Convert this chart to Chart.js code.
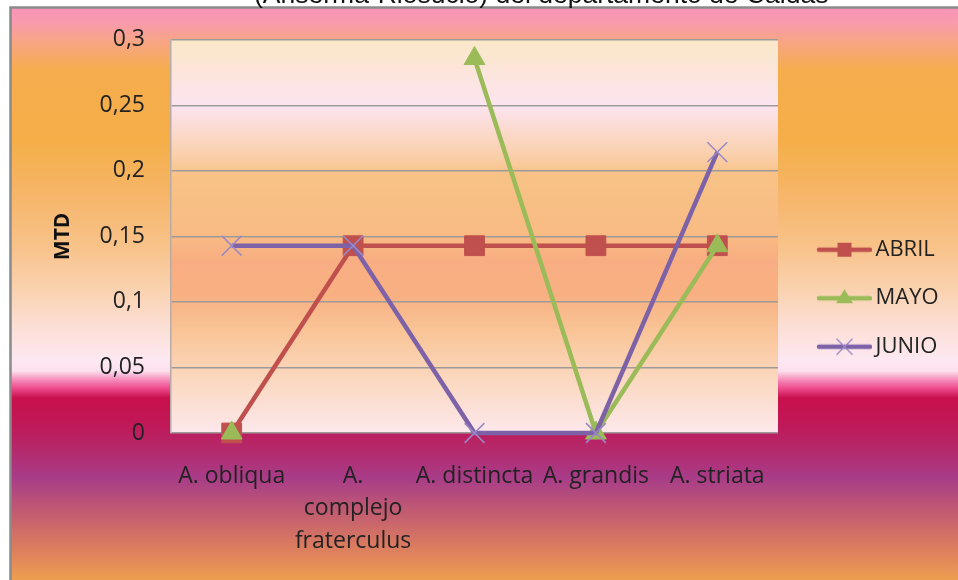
<!DOCTYPE html>
<html><head><meta charset="utf-8">
<script src="https://cdn.jsdelivr.net/npm/chart.js@4.4.1/dist/chart.umd.min.js"></script>
<style>
html,body{margin:0;padding:0;background:#fff;overflow:hidden;}
#wrap{position:relative;width:958px;height:580px;overflow:hidden;}
#title{position:absolute;left:254px;top:-19px;font-family:"Liberation Sans",Arial,sans-serif;font-size:26.5px;line-height:26px;color:#111;white-space:nowrap;}
canvas{display:block;}
</style></head><body>
<div id="wrap"><canvas id="c" width="958" height="580"></canvas><div id="title">(Anserma-Riosucio) del departamento de Caldas</div></div>
<script>
const categories = ['A. obliqua', ['A.', 'complejo', 'fraterculus'], 'A. distincta', 'A. grandis', 'A. striata'];
const seriesNames = ['ABRIL', 'MAYO', 'JUNIO'];
const abril = [0, 0.1429, 0.1429, 0.1429, 0.1429];
const mayo = [0, null, 0.2857, 0, 0.1429];
const junio = [0.1429, 0.1429, 0, 0, 0.2143];
const yTicks = [0, 0.05, 0.1, 0.15, 0.2, 0.25, 0.3];
const yTickLabels = ['0', '0,05', '0,1', '0,15', '0,2', '0,25', '0,3'];
const yAxisTitle = 'MTD';

const colors = ['#C0504D', '#9BBB59', '#7E62A8'];
const markerBorder = ['#C0504D', '#9BBB59', '#9A88C6'];
const styles = ['rect', 'triangle', 'crossRot'];
const radii = [14, 12, 14];

function makeIcon(i) {
  const c = document.createElement('canvas');
  c.width = 75; c.height = 26;
  const x = c.getContext('2d');
  x.strokeStyle = colors[i]; x.lineWidth = 4.5; x.lineCap = 'round';
  x.beginPath(); x.moveTo(22, 13); x.lineTo(73, 13); x.stroke();
  x.fillStyle = colors[i];
  x.strokeStyle = markerBorder[i];
  const cx = 47.5, cy = 13;
  if (styles[i] === 'rect') {
    x.fillRect(cx - 7, cy - 7, 14, 14);
  } else if (styles[i] === 'triangle') {
    x.beginPath(); x.moveTo(cx, cy - 9); x.lineTo(cx + 8.5, cy + 5); x.lineTo(cx - 8.5, cy + 5); x.closePath(); x.fill();
  } else {
    x.lineWidth = 1.3; x.lineCap = 'butt';
    x.beginPath(); x.moveTo(cx - 8, cy - 8); x.lineTo(cx + 8, cy + 8); x.moveTo(cx - 8, cy + 8); x.lineTo(cx + 8, cy - 8); x.stroke();
  }
  return c;
}
const icons = [0, 1, 2].map(makeIcon);

const bgPlugin = {
  id: 'bg',
  beforeDraw(chart) {
    const {ctx, chartArea: a, width, height} = chart;
    ctx.save();
    ctx.fillStyle = '#fff'; ctx.fillRect(0, 0, width, height);
    const g = ctx.createLinearGradient(0, 9, 0, 580);
    const os = [[9,'#F996B8'],[22,'#F99AAE'],[40,'#F7A488'],[70,'#F5AD4E'],[140,'#F5AE48'],[200,'#F6B66C'],[245,'#F8C288'],[290,'#FAD2B0'],[330,'#FCE0D8'],[360,'#FDE8F2'],[371,'#FCE0EE'],[380,'#F58AB8'],[388,'#EE4D8E'],[398,'#C8104C'],[425,'#C01858'],[450,'#B42A6C'],[478,'#A83C88'],[510,'#C05A72'],[545,'#D97A60'],[580,'#EE9E50']];
    os.forEach(([y, c]) => g.addColorStop((y - 9) / 571, c));
    ctx.fillStyle = g; ctx.fillRect(11, 8, width - 11, height - 8);
    ctx.strokeStyle = '#8a8a8a'; ctx.lineWidth = 2.5;
    ctx.beginPath(); ctx.moveTo(10.5, height); ctx.lineTo(10.5, 7.5); ctx.lineTo(width, 7.5); ctx.stroke();
    const pg = ctx.createLinearGradient(0, a.top, 0, a.bottom);
    const ps = [[39,'#FBE8C8'],[70,'#FCE5DA'],[105,'#FCE4F0'],[150,'#FAD2B2'],[175,'#F8C286'],[230,'#F8BC84'],[260,'#F8AE82'],[295,'#F8B082'],[330,'#F9C496'],[380,'#FBD8C0'],[433,'#FDE8EC']];
    ps.forEach(([y, c]) => pg.addColorStop(Math.min(1, Math.max(0, (y - 39) / 394)), c));
    ctx.fillStyle = pg; ctx.fillRect(a.left, a.top, a.right - a.left, a.bottom - a.top);
    ctx.restore();
  }
};

const seriesData = [abril, mayo, junio];
const datasets = seriesData.map((d, i) => ({
  label: seriesNames[i],
  data: d,
  borderColor: colors[i],
  backgroundColor: colors[i],
  borderWidth: 4.5,
  tension: 0,
  spanGaps: false,
  pointStyle: styles[i],
  pointRadius: radii[i],
  pointHoverRadius: radii[i],
  pointBackgroundColor: colors[i],
  pointBorderColor: markerBorder[i],
  pointBorderWidth: i === 2 ? 1.5 : 1,
  clip: false,
  order: 3 - i
}));

const axisFont = {family: '"Open Sans", sans-serif', size: 23};

new Chart(document.getElementById('c'), {
  type: 'line',
  data: {labels: categories, datasets},
  plugins: [bgPlugin],
  options: {
    responsive: false,
    animation: false,
    devicePixelRatio: 1,
    layout: {padding: {left: 0, right: 20, top: 39, bottom: 0}},
    plugins: {
      tooltip: {enabled: false},
      title: {display: false},
      legend: {
        position: 'right',
        align: 'start',
        maxWidth: 160,
        title: {display: true, text: '', padding: {top: 158.8, bottom: 0}, font: {size: 12}},
        labels: {
          usePointStyle: true,
          pointStyleWidth: 60,
          padding: 26.5,
          color: '#222',
          font: {family: '"Open Sans", sans-serif', size: 22},
          generateLabels(chart) {
            return chart.data.datasets.map((ds, i) => ({
              text: ds.label, pointStyle: icons[i], datasetIndex: i, hidden: false,
              lineWidth: 0, fillStyle: ds.borderColor, strokeStyle: ds.borderColor, fontColor: '#222'
            }));
          }
        }
      }
    },
    scales: {
      x: {
        type: 'category',
        offset: true,
        grid: {display: false, drawTicks: false},
        border: {display: false},
        ticks: {font: {...axisFont, lineHeight: 1.42}, color: '#222', padding: 26.7, maxRotation: 0, autoSkip: false},
        afterFit(s) { s.height = 147; }
      },
      y: {
        min: 0, max: 0.3,
        afterBuildTicks(s) { s.ticks = yTicks.map(v => ({value: v})); },
        ticks: {
          font: axisFont, color: '#222', padding: 26,
          callback(v) { const k = yTicks.findIndex(t => Math.abs(t - v) < 1e-9); return k >= 0 ? yTickLabels[k] : ''; }
        },
        grid: {color: '#9E9A98', lineWidth: 1.5, drawTicks: false},
        border: {display: true, color: '#B8ACA8', width: 1.5},
        title: {display: true, text: yAxisTitle, color: '#111', font: {family: '"Open Sans", sans-serif', size: 21, weight: 'bold'}, padding: {top: 50.4, bottom: 0}},
        afterFit(s) { s.width = 171; }
      }
    }
  }
});
</script>
</body></html>
